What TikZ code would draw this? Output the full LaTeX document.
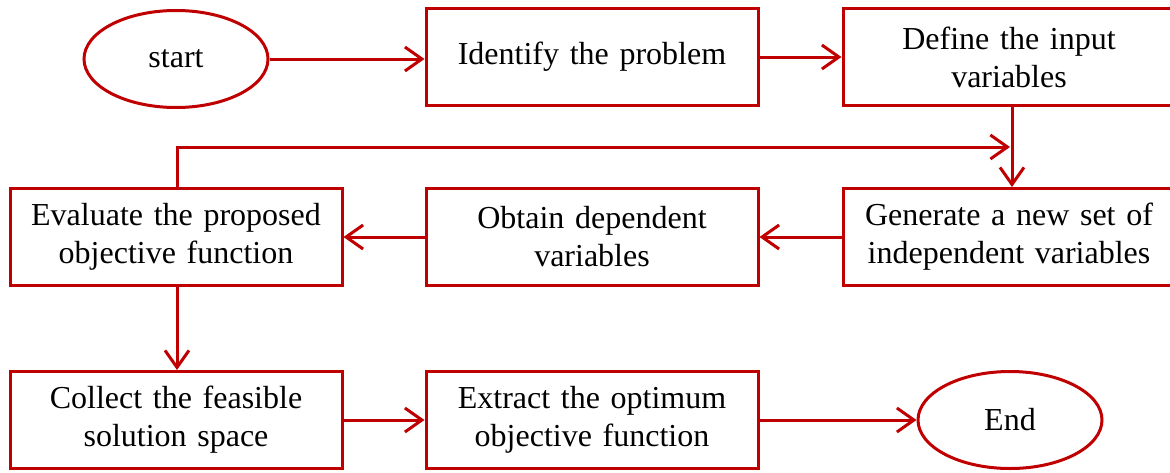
\documentclass[tikz,border=0pt]{standalone}
\usepackage{fontspec}
\setmainfont{Liberation Serif}
\usetikzlibrary{arrows.meta,shapes.geometric}
\definecolor{dred}{RGB}{192,0,0}
\begin{document}
\begin{tikzpicture}[x=1pt,y=-1pt,
  box/.style={draw=dred,line width=3pt,minimum width=332pt,minimum height=97pt,align=center,inner sep=0pt,
    font=\fontsize{32}{38}\selectfont,text width=330pt},
  oval/.style={draw=dred,line width=3pt,ellipse,minimum width=184pt,minimum height=97pt,inner sep=0pt,
    font=\fontsize{32}{38}\selectfont},
  conn/.style={draw=dred,line width=3pt,-{Straight Barb[length=17pt,width=24pt,line width=3pt]}}]
\useasboundingbox (0,0) rectangle (1170,472);
\node[oval] (start) at (176,59) {start};
\node[box] (ident) at (592,57) {Identify the problem};
\node[box] (define) at (1009,57) {Define the input\\variables};
\node[box] (eval) at (176,237) {Evaluate the proposed\\objective function};
\node[box] (obtain) at (592,237) {Obtain dependent\\variables};
\node[box] (gen) at (1009,237) {Generate a new set of\\independent variables};
\node[box] (collect) at (176,420) {Collect the feasible\\solution space};
\node[box] (extract) at (592,420) {Extract the optimum\\objective function};
\node[oval] (end) at (1010,420) {End};
\coordinate (fbtop) at (177,147);
\coordinate (fbend) at (1010,147);
\draw[conn] (start.east) -- (start.east -| ident.west);
\draw[conn] (ident.east) -- (define.west);
\draw[conn] (define.south -| 1012,0) -- (gen.north -| 1012,0);
\draw[conn] (eval.north -| fbtop) -- (fbtop) -- (fbend);
\draw[conn] (gen.west) -- (obtain.east);
\draw[conn] (obtain.west) -- (eval.east);
\draw[conn] (eval.south -| fbtop) -- (collect.north -| fbtop);
\draw[conn] (collect.east) -- (extract.west);
\draw[conn] (extract.east) -- (end.west);
\end{tikzpicture}
\end{document}
